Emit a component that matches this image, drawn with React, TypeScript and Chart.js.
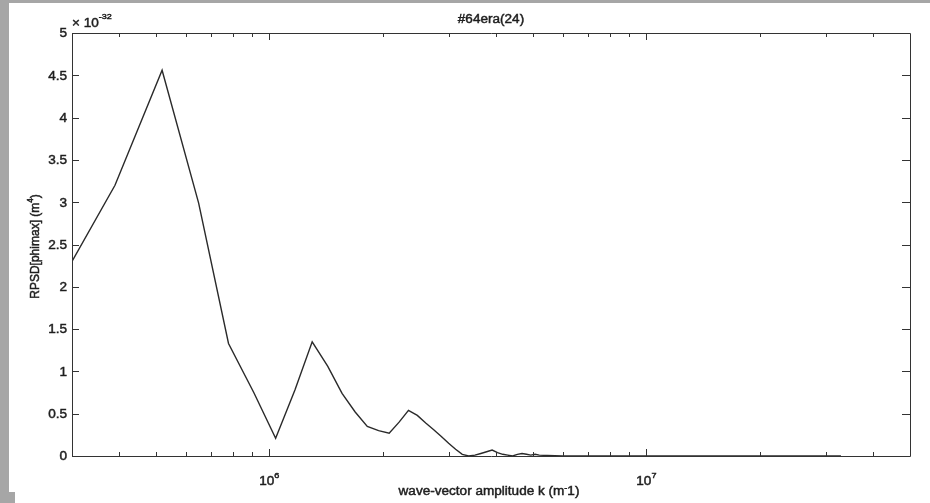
import React, { useEffect, useRef } from 'react';
import { Chart, registerables } from 'chart.js';

Chart.register(...registerables);

// ---- data ----
const kValues = [
  3.0e5, 3.9e5, 5.2e5, 6.5e5, 7.8e5, 9.1e5, 1.04e6, 1.17e6, 1.3e6, 1.43e6,
  1.56e6, 1.69e6, 1.82e6, 1.95e6, 2.08e6, 2.21e6, 2.34e6, 2.47e6, 2.6e6, 2.73e6,
  2.86e6, 2.99e6, 3.12e6, 3.25e6, 3.38e6, 3.51e6, 3.64e6, 3.77e6, 3.9e6, 4.03e6,
  4.16e6, 4.29e6, 4.42e6, 4.55e6, 4.68e6, 4.81e6, 4.94e6, 5.07e6, 5.2e6,
  6.0e6, 8.0e6, 1.2e7, 1.8e7, 2.5e7, 3.28e7,
];
const rpsdValues = [
  2.30, 3.20, 4.56, 2.99, 1.33, 0.75, 0.21, 0.78, 1.35, 1.06,
  0.74, 0.52, 0.35, 0.30, 0.27, 0.40, 0.54, 0.48, 0.39, 0.31,
  0.23, 0.15, 0.08, 0.02, 0.00, 0.01, 0.03, 0.05, 0.07, 0.04,
  0.02, 0.01, 0.00, 0.02, 0.03, 0.02, 0.01, 0.02, 0.01,
  0.00, 0.00, 0.00, 0.00, 0.00, 0.00,
];

const yTickValues = [0, 0.5, 1, 1.5, 2, 2.5, 3, 3.5, 4, 4.5, 5];
const yTickLabels = ['0', '0.5', '1', '1.5', '2', '2.5', '3', '3.5', '4', '4.5', '5'];
const xMajorValues = [1e6, 1e7];
const xMajorBase = '10';
const xMajorExponents = ['6', '7'];
const xMinorMultipliers = [2, 3, 4, 5, 6, 7, 8, 9];
const X_MIN = 3e5;
const X_MAX = 5e7;
const Y_MIN = 0;
const Y_MAX = 5;

const titleText = '#64era(24)';
const yTitleParts = [{ t: 'RPSD[phimax] (m' }, { t: '4', sup: true }, { t: ')' }];
const xTitleParts = [{ t: 'wave-vector amplitude k (m' }, { t: '-', sup: true }, { t: '1)' }];
const scaleFactorParts = [{ t: '\u00d7 10' }, { t: '-32', sup: true }];

// ---- styling ----
const FONT_FAMILY = "'Liberation Sans', Arial, sans-serif";
const BASE_SIZE = 12;
const SUP_SIZE = 8;
const STRETCH = 1.13;
const TEXT_COLOR = '#1e1e1e';
const AXIS_COLOR = '#333333';
const LINE_COLOR = '#2a2a2a';
const FRAME_GREY = '#a6a6a6';

type Part = { t: string; sup?: boolean };

function drawParts(
  ctx: CanvasRenderingContext2D,
  parts: Part[],
  x: number,
  y: number,
  align: 'left' | 'center' | 'right',
  raise = 7.5,
  rotate = false,
) {
  ctx.save();
  ctx.fillStyle = TEXT_COLOR;
  ctx.strokeStyle = TEXT_COLOR;
  ctx.lineWidth = 0.45;
  ctx.textBaseline = 'alphabetic';
  ctx.textAlign = 'left';
  const widths = parts.map((p) => {
    ctx.font = `${p.sup ? SUP_SIZE : BASE_SIZE}px ${FONT_FAMILY}`;
    return ctx.measureText(p.t).width;
  });
  const total = widths.reduce((a, b) => a + b, 0);
  let start = 0;
  if (align === 'center') start = -total / 2;
  else if (align === 'right') start = -total;
  ctx.translate(x, y);
  ctx.scale(STRETCH, 1);
  if (rotate) ctx.rotate(-Math.PI / 2);
  let cx = start;
  parts.forEach((p, i) => {
    ctx.font = `${p.sup ? SUP_SIZE : BASE_SIZE}px ${FONT_FAMILY}`;
    const yy = p.sup ? -raise : 0;
    ctx.fillText(p.t, cx, yy);
    ctx.strokeText(p.t, cx, yy);
    cx += widths[i];
  });
  ctx.restore();
}

const matlabFrame = {
  id: 'matlabFrame',
  beforeDraw(chart: any) {
    const { ctx, width, height } = chart;
    ctx.save();
    ctx.fillStyle = '#ffffff';
    ctx.fillRect(0, 0, width, height);
    ctx.fillStyle = FRAME_GREY;
    ctx.fillRect(0, 0, width, 3);
    ctx.fillRect(0, 0, 9, 492);
    ctx.fillRect(0, 492, 15, height - 492);
    ctx.restore();
  },
  afterDatasetsDraw(chart: any) {
    const { ctx } = chart;
    const { left, right, top, bottom } = chart.chartArea;
    const xs = chart.scales.x;
    const ys = chart.scales.y;
    ctx.save();
    ctx.strokeStyle = AXIS_COLOR;
    ctx.lineWidth = 1;
    ctx.beginPath();
    ctx.rect(Math.round(left) + 0.5, Math.round(top) + 0.5, Math.round(right - left), Math.round(bottom - top));
    ctx.stroke();

    // y ticks (inward, both sides)
    ctx.beginPath();
    yTickValues.forEach((v) => {
      const py = Math.round(ys.getPixelForValue(v)) + 0.5;
      ctx.moveTo(left, py);
      ctx.lineTo(left + 7, py);
      ctx.moveTo(right, py);
      ctx.lineTo(right - 8, py);
    });
    // x ticks (inward, top and bottom)
    const addXTick = (v: number, len: number) => {
      if (v <= X_MIN || v >= X_MAX) return;
      const px = Math.round(xs.getPixelForValue(v)) + 0.5;
      ctx.moveTo(px, bottom);
      ctx.lineTo(px, bottom - len);
      ctx.moveTo(px, top);
      ctx.lineTo(px, top + len);
    };
    [1e5, 1e6, 1e7].forEach((dec) => {
      addXTick(dec, 7);
      xMinorMultipliers.forEach((m) => addXTick(m * dec, 4));
    });
    ctx.stroke();
    ctx.restore();

    // y tick labels
    yTickValues.forEach((v, i) => {
      const py = ys.getPixelForValue(v);
      drawParts(ctx, [{ t: yTickLabels[i] }], left - 5, py + 4.3, 'right');
    });
    // x tick labels
    xMajorValues.forEach((v, i) => {
      const px = xs.getPixelForValue(v);
      drawParts(ctx, [{ t: xMajorBase }, { t: xMajorExponents[i], sup: true }], px, bottom + 29, 'center', 7.5);
    });
    // scale factor
    drawParts(ctx, scaleFactorParts, left, top - 6.5, 'left', 7.5);
    // title
    drawParts(ctx, [{ t: titleText }], (left + right) / 2, top - 10, 'center');
    // x title
    drawParts(ctx, xTitleParts, (left + right) / 2 - 2, bottom + 39, 'center', 5);
    // y title
    drawParts(ctx, yTitleParts, 38.5, (top + bottom) / 2 + 2, 'center', 5, true);
  },
};

export default function App() {
  const canvasRef = useRef<HTMLCanvasElement | null>(null);

  useEffect(() => {
    const canvas = canvasRef.current;
    if (!canvas) return;
    const chart = new Chart(canvas, {
      type: 'line',
      data: {
        datasets: [
          {
            data: kValues.map((k, i) => ({ x: k, y: rpsdValues[i] })),
            borderColor: LINE_COLOR,
            borderWidth: 1.4,
            pointRadius: 0,
            tension: 0,
            fill: false,
          },
        ],
      },
      options: {
        responsive: false,
        animation: false,
        devicePixelRatio: 1,
        layout: { padding: { left: 72, top: 33, right: 20, bottom: 47 } },
        plugins: {
          legend: { display: false },
          tooltip: { enabled: false },
          title: { display: false },
        },
        scales: {
          x: { type: 'logarithmic', min: X_MIN, max: X_MAX, display: false },
          y: { type: 'linear', min: Y_MIN, max: Y_MAX, display: false },
        },
      },
      plugins: [matlabFrame],
    } as any);
    return () => chart.destroy();
  }, []);

  return (
    <div style={{ position: 'absolute', left: 0, top: 0, width: 930, height: 503 }}>
      <canvas ref={canvasRef} width={930} height={503} style={{ display: 'block' }} />
    </div>
  );
}
